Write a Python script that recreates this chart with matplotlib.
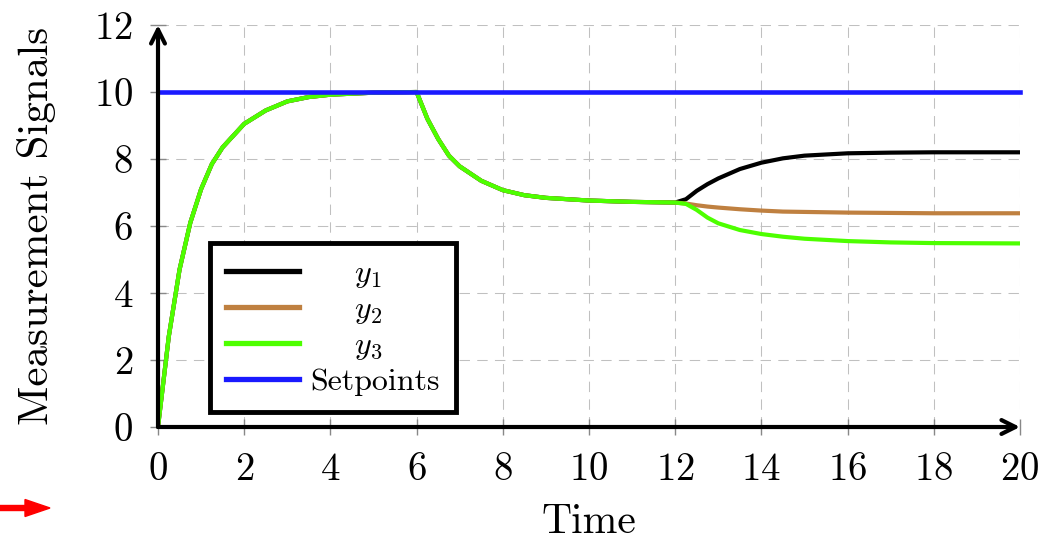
import matplotlib
matplotlib.use('Agg')
import matplotlib.pyplot as plt
from matplotlib.patches import FancyArrow

plt.rcParams['font.family'] = ['cmr10']
plt.rcParams['mathtext.fontset'] = 'cm'
plt.rcParams['axes.formatter.use_mathtext'] = True

# sample times
t = [0, 0.25, 0.5, 0.75, 1, 1.25, 1.5, 2, 2.5, 3, 3.5, 4, 5, 6,
     6.25, 6.5, 6.75, 7, 7.5, 8, 8.5, 9, 10, 11, 12,
     12.25, 12.5, 12.75, 13, 13.5, 14, 14.5, 15, 16, 17, 18, 20]

# common part up to t = 12
wspolne = [0, 2.7, 4.7, 6.1, 7.1, 7.85, 8.35, 9.05, 9.45, 9.72, 9.85, 9.92, 9.98, 10.0,
           9.2, 8.6, 8.1, 7.78, 7.35, 7.07, 6.92, 6.84, 6.76, 6.72, 6.70]

y1 = wspolne + [6.80, 7.05, 7.25, 7.42, 7.70, 7.89, 8.02, 8.10, 8.17, 8.19, 8.20, 8.20]
y2 = wspolne + [6.67, 6.62, 6.58, 6.55, 6.50, 6.46, 6.43, 6.42, 6.40, 6.39, 6.38, 6.38]
y3 = wspolne + [6.66, 6.48, 6.25, 6.08, 5.88, 5.76, 5.68, 5.62, 5.55, 5.51, 5.49, 5.48]
setpoint = [10] * len(t)

xticks = list(range(0, 21, 2))
yticks = list(range(0, 13, 2))

fig = plt.figure(figsize=(10.63, 5.45), dpi=100)
ax = fig.add_axes([158 / 1063, 1 - 427 / 545, 862 / 1063, 402 / 545])

ax.plot(t, y1, color='black', lw=3, label=r'$\hspace{1.6}y_1$', zorder=3)
ax.plot(t, y2, color='#bf8040', lw=3, label=r'$\hspace{1.6}y_2$', zorder=3)
ax.plot(t, y3, color='#4dff00', lw=3, label=r'$\hspace{1.6}y_3$', zorder=4)
ax.plot(t, setpoint, color='#1a1aff', lw=3.3, label='Setpoints', zorder=5, clip_on=False)

ax.set_xlim(0, 20)
ax.set_ylim(0, 12)
ax.set_xticks(xticks)
ax.set_yticks(yticks)
ax.tick_params(direction='inout', length=12, width=1, color='#888888',
               labelsize=28, pad=12)
ax.grid(True, color='#c0c0c0', lw=0.75, linestyle=(0, (10, 7)))
ax.set_axisbelow(True)

for s in ax.spines.values():
    s.set_visible(False)

# osie ze strzalkami
strz = dict(arrowstyle='->,head_length=1.0,head_width=0.5', lw=3, color='black',
            shrinkA=0, shrinkB=0)
ax.annotate('', xy=(0, 12), xytext=(0, 0), arrowprops=strz, annotation_clip=False, zorder=6)
ax.annotate('', xy=(20, 0), xytext=(0, 0), arrowprops=strz, annotation_clip=False, zorder=6)

ax.set_xlabel('Time', fontsize=30)
ax.set_ylabel('Measurement Signals', fontsize=31)
ax.xaxis.set_label_coords(0.5, -0.19)
ax.yaxis.set_label_coords(-0.118, 0.5)

leg = ax.legend(loc='lower left', bbox_to_anchor=(0.06, 0.037), fontsize=23,
                handlelength=2.3, handletextpad=0.35, labelspacing=0.18,
                borderpad=0.5, borderaxespad=0, fancybox=False, framealpha=1,
                edgecolor='black')
leg.get_frame().set_linewidth(3.5)
for ln in leg.get_lines():
    ln.set_linewidth(3.8)
leg.set_zorder(10)

# czerwona strzalka
fig.patches.append(FancyArrow(0, (545 - 508) / 100, 0.5, 0, width=0.05, head_width=0.17,
                              head_length=0.25, length_includes_head=True, color='red',
                              transform=fig.dpi_scale_trans, figure=fig))

fig.savefig('out.png', dpi=100)
